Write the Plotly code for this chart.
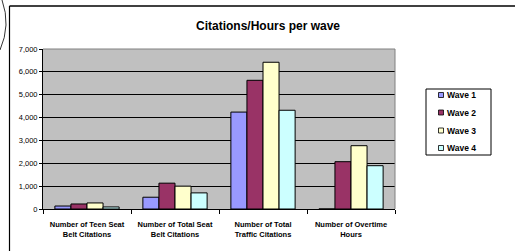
import plotly.graph_objects as go

categories = ["Number of Teen Seat<br>Belt Citations", "Number of Total Seat<br>Belt Citations",
              "Number of Total<br>Traffic Citations", "Number of Overtime<br>Hours"]
wave1 = [130, 515, 4240, 0]
wave2 = [220, 1130, 5630, 2070]
wave3 = [265, 1000, 6420, 2770]
wave4 = [90, 705, 4320, 1895]
series_names = ["Wave 1", "Wave 2", "Wave 3", "Wave 4"]
colors = ["#9999FF", "#993366", "#FFFFCC", "#CCFFFF"]
y_ticks = [0, 1000, 2000, 3000, 4000, 5000, 6000, 7000]

W, H = 515, 251
L, R, T, B = 43, 120, 49, 42
pw, ph = W - L - R, H - T - B

def px(x):
    return (x - L) / pw

def py(y):
    return (H - B - y) / ph

FONT = "Liberation Sans, Arial, sans-serif"

fig = go.Figure()
for name, vals, col in zip(series_names, [wave1, wave2, wave3, wave4], colors):
    fig.add_trace(go.Bar(x=categories, y=vals, name=name,
                         marker=dict(color=col, line=dict(color="black", width=1)),
                         showlegend=False))

shapes = [
    dict(type="line", xref="paper", yref="paper", x0=px(395), x1=px(395), y0=0, y1=1,
         line=dict(color="#808080", width=1)),
    dict(type="line", xref="paper", yref="paper", x0=0, x1=px(395), y0=1, y1=1,
         line=dict(color="#808080", width=1)),
    dict(type="line", xref="paper", yref="paper", x0=px(9.5), x1=px(9.5), y0=py(6), y1=py(251),
         line=dict(color="black", width=1.2)),
    dict(type="line", xref="paper", yref="paper", x0=px(9.5), x1=px(515), y0=py(6), y1=py(6),
         line=dict(color="black", width=1.5)),
    dict(type="path", xref="paper", yref="paper",
         path=f"M {px(2)},{py(0)} Q {px(11)},{py(25)} {px(0)},{py(50)}",
         line=dict(color="black", width=0.8)),
    # legend box
    dict(type="rect", xref="paper", yref="paper", x0=px(426), x1=px(491), y0=py(89), y1=py(155),
         line=dict(color="black", width=1), fillcolor="white", layer="below"),
]
annotations = []
leg_y = [95, 112.5, 130.5, 148]
for name, col, yy in zip(series_names, colors, leg_y):
    shapes.append(dict(type="rect", xref="paper", yref="paper", x0=px(438.5), x1=px(443.5),
                       y0=py(yy + 2.5), y1=py(yy - 2.5), line=dict(color="black", width=0.8),
                       fillcolor=col))
    annotations.append(dict(text=f"<b>{name}</b>", xref="paper", yref="paper", x=px(445), y=py(yy),
                            xanchor="left", yanchor="middle", showarrow=False,
                            font=dict(size=8.5, family=FONT, color="black")))

fig.update_layout(
    width=W, height=H,
    margin=dict(l=L, r=R, t=T, b=B, pad=0),
    paper_bgcolor="white", plot_bgcolor="#C0C0C0",
    barmode="group", bargap=0.27, bargroupgap=0,
    font=dict(family=FONT, color="black"),
    showlegend=False,
    title=dict(text="<b>Citations/Hours per wave</b>", x=268 / W, xanchor="center",
               y=1 - 26 / H, yanchor="middle", font=dict(size=12, family=FONT)),
    xaxis=dict(showgrid=False, ticks="outside", tickson="boundaries", ticklen=4, tickcolor="black",
               showline=True, linecolor="black", linewidth=1, mirror=False, automargin=False,
               ticklabelstandoff=8,
               tickfont=dict(size=7.5, family=FONT), tickprefix="<b>", ticksuffix="</b>"),
    yaxis=dict(range=[0, 7000], tickvals=y_ticks, tickformat=",d", showgrid=True, gridcolor="black",
               gridwidth=1, ticks="outside", ticklen=3, tickcolor="black", showline=True, linecolor="black",
               linewidth=1, tickfont=dict(size=7.5, family=FONT), tickprefix="<b>", ticksuffix="</b>",
               zeroline=False, automargin=False),
    shapes=shapes,
    annotations=annotations,
)

fig.write_html("out.html", config={"displayModeBar": False, "staticPlot": True},
               post_script="document.body.style.margin='0';document.body.style.overflow='hidden';")
